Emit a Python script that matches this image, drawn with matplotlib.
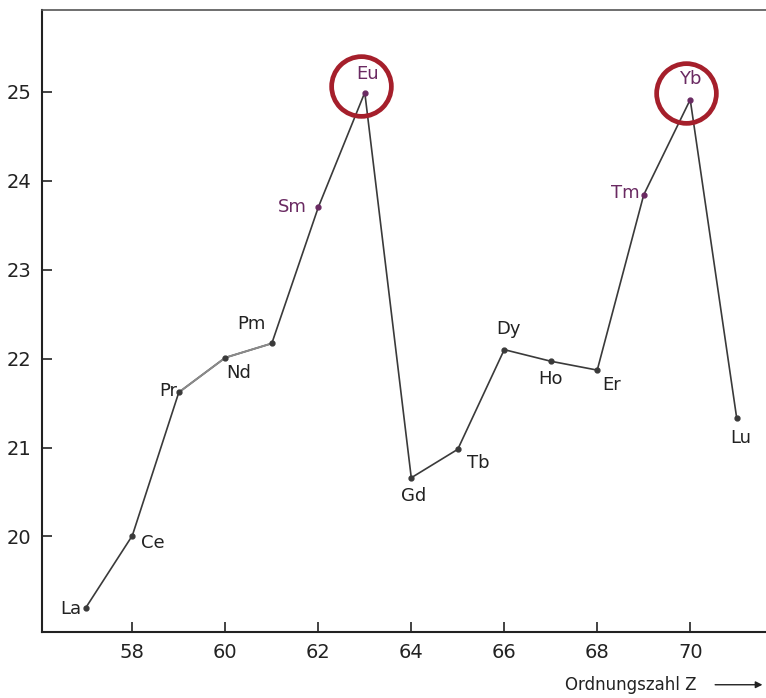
import matplotlib.pyplot as plt
from matplotlib.transforms import ScaledTranslation
from matplotlib.patches import FancyArrowPatch

# Atomvolumen der Lanthanoide
elements = ['La', 'Ce', 'Pr', 'Nd', 'Pm', 'Sm', 'Eu', 'Gd', 'Tb', 'Dy', 'Ho', 'Er', 'Tm', 'Yb', 'Lu']
z = [57, 58, 59, 60, 61, 62, 63, 64, 65, 66, 67, 68, 69, 70, 71]
volume = [19.20, 20.01, 21.62, 22.01, 22.17, 23.70, 24.99, 20.66, 20.98, 22.10, 21.97, 21.87, 23.84, 24.91, 21.33]
highlight = ['Sm', 'Eu', 'Tm', 'Yb']
circled = ['Eu', 'Yb']

# Beschriftungs-Offsets in Punkten (dx, dy, ha)
offsets = {
    'La': (-3, -1, 'right'), 'Ce': (6, -5, 'left'), 'Pr': (-1, 1, 'right'),
    'Nd': (1, -11, 'left'), 'Pm': (-15, 14, 'center'), 'Sm': (-8, 0, 'right'),
    'Eu': (2, 13, 'center'), 'Gd': (2, -13, 'center'), 'Tb': (7, -10, 'left'),
    'Dy': (3, 15, 'center'), 'Ho': (0, -13, 'center'), 'Er': (10, -11, 'center'),
    'Tm': (-3, 1, 'right'), 'Yb': (0, 15, 'center'), 'Lu': (3, -14, 'center'),
}

plt.rcParams['font.family'] = ['DejaVu Sans']

fig = plt.figure(figsize=(7.66, 6.98), dpi=100)
ax = fig.add_axes([0.055, 0.095, 0.945, 0.891])

line_col = '#3a3a3a'
purple = '#6a2a62'

ax.plot(z, volume, color=line_col, lw=1.2, zorder=2)
# Pr - Nd - Pm etwas heller
ax.plot(z[2:5], volume[2:5], color='#8a8a8a', lw=1.4, zorder=2)

for el, x, y in zip(elements, z, volume):
    col = purple if el in highlight else line_col
    ax.plot(x, y, 'o', ms=3.5, color=col, zorder=3)
    dx, dy, ha = offsets[el]
    ax.annotate(el, (x, y), xytext=(dx, dy), textcoords='offset points',
                ha=ha, va='center', fontsize=13, color=purple if el in highlight else '#222222')

for el in circled:
    i = elements.index(el)
    tr = ax.transData + ScaledTranslation(-0.04, 0.07, fig.dpi_scale_trans)
    ax.plot(z[i], volume[i], 'o', ms=43, mfc='none', mec='#a51f2b', mew=3.4,
            transform=tr, zorder=4, clip_on=False)

ax.set_xlim(56.06, 71.63)
ax.set_ylim(18.93, 25.92)
ax.set_xticks([58, 60, 62, 64, 66, 68, 70])
ax.set_yticks([20, 21, 22, 23, 24, 25])
ax.tick_params(direction='in', length=7, width=1.2, labelsize=14, colors='#222222', pad=8)
ax.spines['right'].set_visible(False)
for s in ['left', 'bottom', 'top']:
    ax.spines[s].set_linewidth(1.5)
    ax.spines[s].set_color('#222222')
ax.spines['top'].set_linewidth(1.2)
ax.spines['top'].set_color('#555555')

fig.text(0.738, 0.019, 'Ordnungszahl Z', fontsize=12, color='#222222', ha='left', va='center')
fig.patches.append(FancyArrowPatch(
    (0.93, 0.019), (0.999, 0.019), transform=fig.transFigure, arrowstyle='-|>',
    mutation_scale=10, lw=1.0, color='#222222'))

fig.savefig('out.png', dpi=100)
